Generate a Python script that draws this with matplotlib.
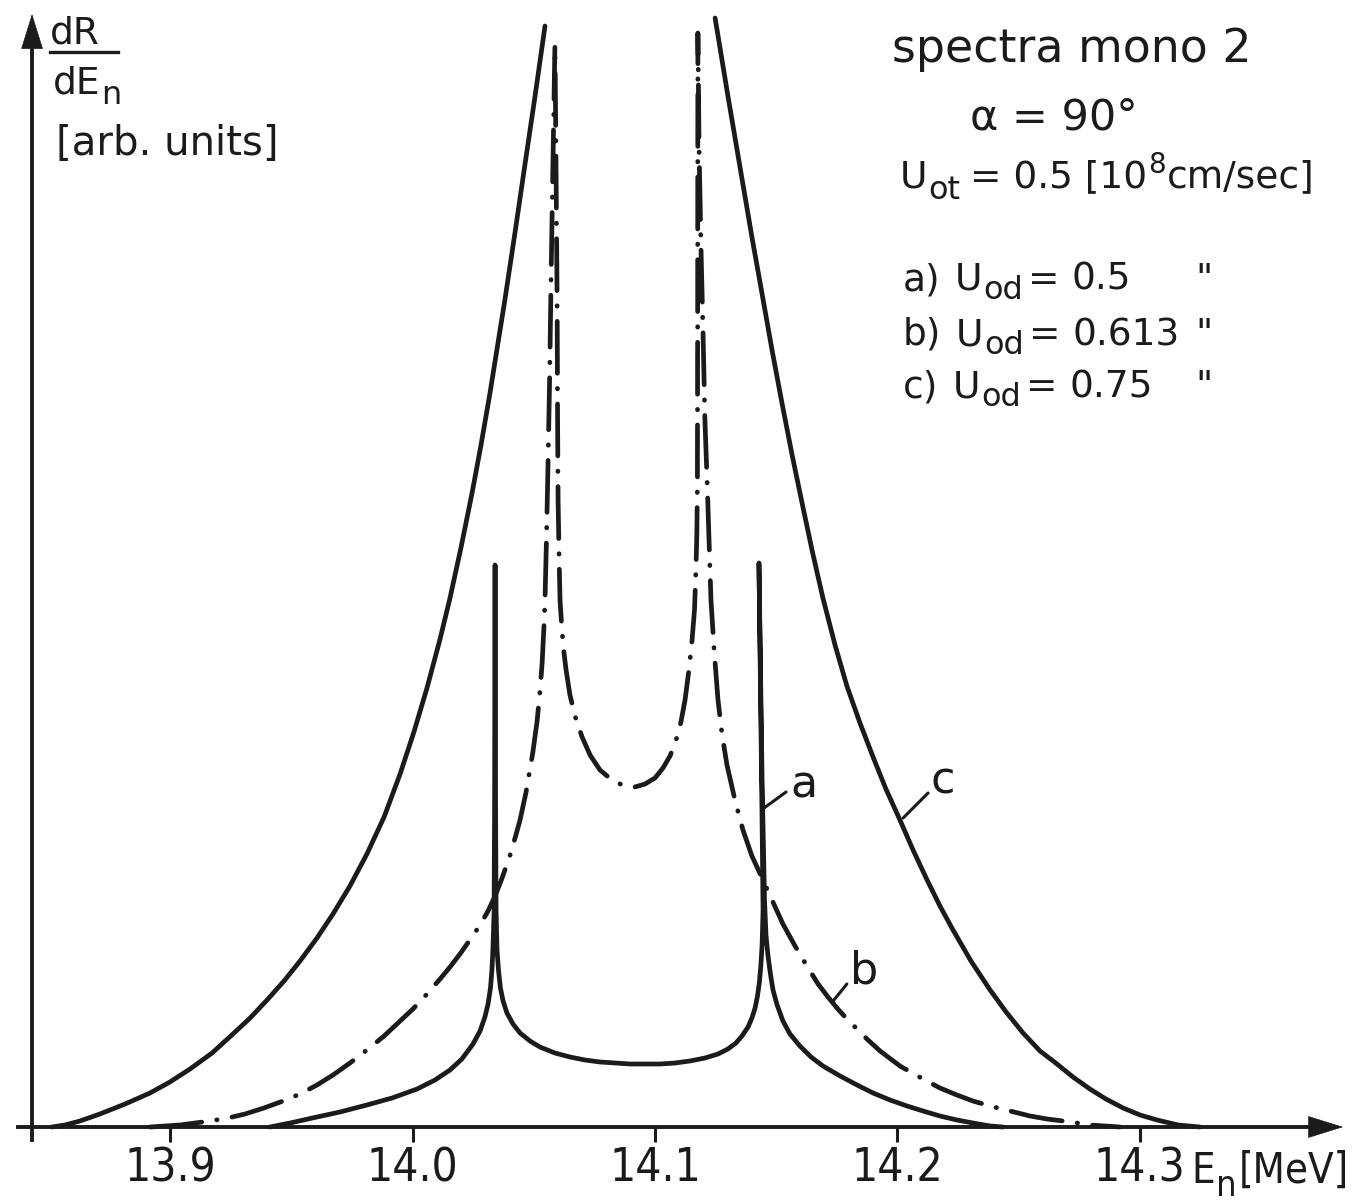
import matplotlib
matplotlib.use("Agg")
import matplotlib.pyplot as plt
from matplotlib.lines import Line2D
from matplotlib import font_manager
from matplotlib.font_manager import FontProperties

plt.rcParams["font.family"] = ["DejaVu Sans"]
plt.rcParams["mathtext.default"] = "regular"

INK = "#1b1b1b"

# ---- data: neutron energy E_n [MeV] and dR/dE_n [arb. units] ----
# a) U_od = 0.5
a_energy = [13.9411, 13.9494, 13.9605, 13.9700, 13.9811, 13.9915, 14.0018, 14.0092,
            14.0154, 14.0203, 14.0249, 14.0278, 14.0298, 14.0311, 14.0321, 14.0327,
            14.0331, 14.0336, 14.0338, 14.0340, 14.0342, 14.0344, 14.0348, 14.0354,
            14.0362, 14.0373, 14.0389, 14.0414, 14.0443, 14.0484, 14.0525, 14.0587,
            14.0649, 14.0711, 14.0773, 14.0835, 14.0897, 14.0959, 14.1021, 14.1083,
            14.1144, 14.1206, 14.1260, 14.1301, 14.1334, 14.1359, 14.1384, 14.1400,
            14.1413, 14.1423, 14.1431, 14.1437, 14.1442, 14.1446, 14.1440, 14.1429,
            14.1442, 14.1452, 14.1458, 14.1466, 14.1477, 14.1487, 14.1504, 14.1528,
            14.1557, 14.1598, 14.1644, 14.1693, 14.1764, 14.1834, 14.1900, 14.1970,
            14.2040, 14.2106, 14.2176, 14.2246, 14.2312, 14.2383, 14.2436]
a_rate = [0.0, 0.4, 1.0, 1.5, 2.2, 2.9, 3.8, 4.7,
          5.7, 6.8, 8.3, 9.6, 11.0, 12.3, 13.9, 15.7,
          17.7, 21.7, 32.7, 56.2, 32.7, 21.7, 17.7, 15.7,
          13.9, 12.6, 11.4, 10.3, 9.4, 8.6, 8.0, 7.4,
          7.0, 6.7, 6.5, 6.4, 6.3, 6.3, 6.3, 6.4,
          6.6, 6.9, 7.3, 7.8, 8.4, 9.1, 10.0, 10.9,
          11.9, 13.1, 14.5, 16.2, 18.2, 21.7, 34.7, 56.4,
          34.7, 22.7, 19.2, 17.2, 15.2, 13.7, 12.2, 10.6,
          9.3, 8.1, 7.0, 6.1, 5.1, 4.2, 3.4, 2.7,
          2.1, 1.6, 1.1, 0.7, 0.4, 0.1, 0.0]

# b) U_od = 0.613
b_energy = [13.8916, 13.8978, 13.9040, 13.9102, 13.9163, 13.9238, 13.9308, 13.9386,
            13.9465, 13.9535, 13.9605, 13.9671, 13.9741, 13.9811, 13.9882, 13.9948,
            14.0001, 14.0059, 14.0113, 14.0154, 14.0195, 14.0236, 14.0278, 14.0311,
            14.0340, 14.0369, 14.0402, 14.0426, 14.0443, 14.0468, 14.0496, 14.0513,
            14.0525, 14.0534, 14.0542, 14.0546, 14.0552, 14.0558, 14.0565, 14.0571,
            14.0579, 14.0587, 14.0591, 14.0596, 14.0598, 14.0600, 14.0604, 14.0608,
            14.0616, 14.0624, 14.0633, 14.0649, 14.0670, 14.0699, 14.0732, 14.0773,
            14.0827, 14.0876, 14.0917, 14.0959, 14.1000, 14.1033, 14.1062, 14.1087,
            14.1107, 14.1124, 14.1140, 14.1153, 14.1163, 14.1169, 14.1173, 14.1175,
            14.1176, 14.1177, 14.1182, 14.1190, 14.1198, 14.1206, 14.1215, 14.1223,
            14.1231, 14.1244, 14.1260, 14.1277, 14.1297, 14.1330, 14.1363, 14.1400,
            14.1442, 14.1483, 14.1528, 14.1578, 14.1627, 14.1673, 14.1714, 14.1751,
            14.1792, 14.1834, 14.1879, 14.1929, 14.2011, 14.2106, 14.2176, 14.2246,
            14.2312, 14.2383, 14.2465, 14.2548, 14.2618, 14.2684, 14.2742, 14.2795,
            14.2857, 14.2919]
b_rate = [0.0, 0.1, 0.2, 0.4, 0.6, 0.9, 1.3, 1.9,
          2.6, 3.3, 4.2, 5.2, 6.4, 7.7, 9.1, 10.6,
          11.8, 13.3, 14.8, 16.0, 17.3, 18.7, 20.2, 21.6,
          23.1, 24.9, 27.2, 29.2, 30.7, 33.5, 37.5, 40.5,
          43.5, 46.3, 50.2, 52.7, 58.7, 65.7, 74.7, 84.7,
          96.7, 108.2, 97.7, 82.7, 70.7, 62.7, 57.2, 52.7,
          49.7, 47.5, 45.7, 43.2, 41.1, 39.0, 37.2, 35.7,
          34.6, 34.1, 34.0, 34.3, 34.9, 35.9, 37.1, 38.7,
          40.5, 42.7, 45.7, 48.7, 51.7, 55.7, 59.7, 64.7,
          80.0, 109.4, 97.7, 87.7, 79.7, 70.7, 64.7, 58.7,
          52.7, 47.7, 42.7, 39.2, 36.2, 32.7, 29.7, 27.1,
          24.9, 22.7, 20.3, 18.1, 16.1, 14.3, 13.0, 11.9,
          10.8, 9.8, 8.7, 7.6, 6.1, 4.8, 3.9, 3.2,
          2.6, 2.1, 1.6, 1.1, 0.8, 0.6, 0.4, 0.2,
          0.1, 0.0]

# c) U_od = 0.75 (runs off the top between the two flanks)
c_left_energy = [13.8511, 13.8565, 13.8627, 13.8709, 13.8813, 13.8916, 13.8998, 13.9081,
                 13.9172, 13.9258, 13.9329, 13.9399, 13.9469, 13.9535, 13.9605, 13.9671,
                 13.9741, 13.9811, 13.9882, 13.9948, 14.0005, 14.0059, 14.0113, 14.0154,
                 14.0199, 14.0245, 14.0282, 14.0319, 14.0381, 14.0422, 14.0463, 14.0505,
                 14.0546]
c_left_rate = [0.0, 0.2, 0.6, 1.3, 2.3, 3.4, 4.5, 5.8,
               7.4, 9.3, 10.9, 12.7, 14.6, 16.6, 18.9, 21.3,
               24.1, 27.3, 31.0, 35.3, 39.5, 43.9, 48.8, 52.9,
               57.9, 63.4, 68.2, 73.4, 82.8, 89.4, 96.2, 103.1,
               110.1]
c_right_energy = [14.1248, 14.1301, 14.1355, 14.1400, 14.1442, 14.1483, 14.1524, 14.1565,
                  14.1607, 14.1648, 14.1693, 14.1743, 14.1792, 14.1846, 14.1900, 14.1953,
                  14.2011, 14.2065, 14.2123, 14.2176, 14.2230, 14.2304, 14.2383, 14.2449,
                  14.2519, 14.2589, 14.2659, 14.2725, 14.2795, 14.2861, 14.2932, 14.3002,
                  14.3072, 14.3159, 14.3249]
c_right_rate = [110.9, 103.1, 95.4, 89.0, 83.3, 77.7, 72.4, 67.3,
                62.4, 57.7, 52.9, 48.2, 44.1, 40.4, 37.0, 33.8,
                30.7, 27.7, 24.7, 22.1, 19.7, 16.6, 13.7, 11.5,
                9.4, 7.6, 6.3, 5.0, 3.8, 2.8, 1.9, 1.2,
                0.7, 0.2, 0.0]

x_ticks = [13.9, 14.0, 14.1, 14.2, 14.3]
x_tick_labels = ["13.9", "14.0", "14.1", "14.2", "14.3"]


def narrow_font():
    """Pick an installed condensed sans face for the axis lettering, if any."""
    for family in ("Liberation Sans Narrow", "DejaVu Sans", "Noto Sans",
                   "Open Sans", "Roboto"):
        for stretch in ("condensed", "semi-condensed"):
            try:
                path = font_manager.findfont(
                    FontProperties(family=family, stretch=stretch),
                    fallback_to_default=False)
            except ValueError:
                continue
            name = path.lower()
            if "condensed" in name or "narrow" in name:
                return FontProperties(fname=path)
    return None


axis_font = narrow_font()
tick_size = 33 if axis_font is not None else 28
unit_size = 30 if axis_font is not None else 28

W, H = 1365, 1203
fig = plt.figure(figsize=(W / 100, H / 100), dpi=100)
fig.patch.set_facecolor("white")
ax = fig.add_axes([0, 0, 1, 1])
ax.set_facecolor("white")
ax.set_xlim(13.829674, 14.393025)
ax.set_ylim(-7.6, 112.7)
renderer = fig.canvas.get_renderer()


def text_run(px, py, pieces, font=None):
    """Write text pieces left to right from pixel position (px, py = baseline).
    Each piece is (string, fontsize, baseline shift in px, gap after in px)."""
    x = px
    for s, size, dy, gap in pieces:
        t = fig.text(x / W, 1 - (py + dy) / H, s, fontsize=size, color=INK,
                     va="baseline", ha="left")
        if font is not None:
            t.set_fontproperties(font)
            t.set_fontsize(size)
        x = t.get_window_extent(renderer=renderer).x1 + gap


# ---- axes with arrow heads ----
y_axis_x = 13.8429
for side in ("top", "right"):
    ax.spines[side].set_visible(False)
ax.spines["left"].set_position(("data", y_axis_x))
ax.spines["bottom"].set_position(("data", 0))
ax.spines["left"].set_bounds(-1.3, 108.5)
ax.spines["bottom"].set_bounds(13.8371, 14.3703)
for side in ("left", "bottom"):
    ax.spines[side].set_linewidth(2.8)
    ax.spines[side].set_color(INK)

head = dict(arrowstyle="-|>,head_length=2.4,head_width=0.75", mutation_scale=10,
            fc=INK, ec=INK, lw=0.5, shrinkA=0, shrinkB=0)
ax.annotate("", xy=(14.3840, 0), xytext=(14.3703, 0), arrowprops=head,
            annotation_clip=False)
ax.annotate("", xy=(y_axis_x, 111.3), xytext=(y_axis_x, 108.0), arrowprops=head,
            annotation_clip=False)

ax.set_xticks(x_ticks)
ax.set_xticklabels(x_tick_labels)
for lab in ax.get_xticklabels():
    if axis_font is not None:
        lab.set_fontproperties(axis_font)
    lab.set_fontsize(tick_size)
ax.set_yticks([])
ax.tick_params(axis="x", direction="out", length=11, width=2.2, pad=3, colors=INK)

# ---- curves ----
lw = 3.4
ax.plot(a_energy, a_rate, color=INK, lw=lw, solid_capstyle="round",
        solid_joinstyle="round")
ax.plot(b_energy, b_rate, color=INK, lw=lw, linestyle=(0, (11, 3.2, 0.1, 3.2)),
        dash_capstyle="round", dash_joinstyle="round")
ax.plot(c_left_energy, c_left_rate, color=INK, lw=lw, solid_capstyle="round",
        solid_joinstyle="round")
ax.plot(c_right_energy, c_right_rate, color=INK, lw=lw, solid_capstyle="round",
        solid_joinstyle="round")

# ---- curve labels with leaders ----
leader = dict(arrowstyle="-", lw=2.2, color=INK, shrinkA=0, shrinkB=0)
ax.annotate("", xy=(14.1450, 31.9), xytext=(14.1541, 33.5), arrowprops=leader)
ax.annotate("", xy=(14.1735, 12.6), xytext=(14.1792, 14.3), arrowprops=leader)
ax.annotate("", xy=(14.2024, 30.9), xytext=(14.2127, 33.4), arrowprops=leader)
ax.text(14.1557, 32.9, "a", fontsize=32, color=INK, va="baseline", ha="left")
ax.text(14.1805, 14.4, "b", fontsize=32, color=INK, va="baseline", ha="left")
ax.text(14.2135, 33.4, "c", fontsize=32, color=INK, va="baseline", ha="left")

# ---- axis titles ----
text_run(1191, 1183, [("E", unit_size, 0, 1), ("n", unit_size - 4, 13, 2),
                      ("[MeV]", unit_size, 0, 0)], font=axis_font)
text_run(50, 43, [("dR", 27, 0, 0)])
fig.add_artist(Line2D([50 / W, 118 / W], [1 - 52 / H] * 2, lw=2.4, color=INK))
text_run(53, 93, [("dE", 27, 0, 1), ("n", 23, 11, 0)])
text_run(56, 155, [("[arb. units]", 29, 0, 0)])

# ---- parameter block ----
text_run(892, 62, [("spectra mono 2", 33, 0, 0)])
text_run(970, 130, [("α = 90°", 31, 0, 0)])
text_run(900, 187, [("U", 27, 0, 1), ("ot", 23, 12, 10), ("= 0.5 [10", 27, 0, 1),
                    ("8", 20, -14, 1), ("cm/sec]", 27, 0, 0)])
for label, value, py in (("a)", "0.5", 290), ("b)", "0.613", 345), ("c)", "0.75", 397)):
    text_run(903, py, [(label, 27, 0, 14), ("U", 27, 0, 1), ("od", 23, 9, 5),
                       ("=", 27, 0, 12), (value, 27, 0, 0)])
    text_run(1195, py, [('"', 27, 0, 0)])

fig.savefig("out.png", dpi=100, facecolor="white")
